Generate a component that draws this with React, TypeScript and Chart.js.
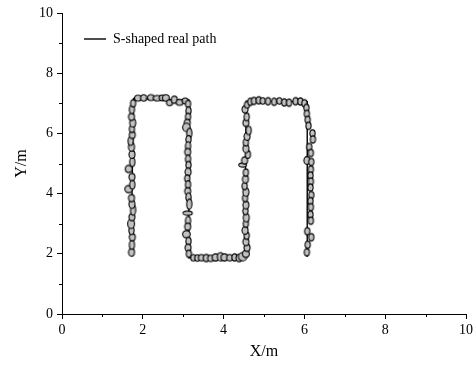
import React, { useEffect, useRef } from "react";
import { Chart, registerables } from "chart.js";

Chart.register(...registerables);

// Real path (polyline corners)
const pathX = [1.71, 1.77, 3.14, 3.14, 4.52, 4.56, 6.07, 6.07];
const pathY = [2.0, 7.16, 7.1, 1.87, 1.87, 7.07, 7.05, 1.9];

// Measured positions (ellipse centres) and their semi-axes, in data units
const ellipseX = [
  1.72, 1.73, 1.74, 1.72, 1.71, 1.73, 1.76, 1.73, 1.72, 1.65, 1.74, 1.73, 1.65, 1.74, 1.73, 1.72, 1.7, 1.74, 1.73, 1.75, 1.72, 1.73, 1.76,
  1.88, 2.02, 2.2, 2.36, 2.48, 2.57, 2.66, 2.78, 2.91, 3.05,
  3.12, 3.13, 3.12, 3.1, 3.08, 3.15, 3.13, 3.12, 3.11, 3.12, 3.13, 3.12, 3.1, 3.12, 3.11, 3.13, 3.15, 3.11, 3.12, 3.11, 3.08, 3.13, 3.12, 3.14,
  3.25, 3.35, 3.45, 3.57, 3.68, 3.8, 3.92, 4.02, 4.15, 4.27, 4.38, 4.47,
  4.55, 4.58, 4.55, 4.57, 4.53, 4.55, 4.56, 4.54, 4.55, 4.53, 4.55, 4.52, 4.54, 4.55, 4.47, 4.52, 4.6, 4.55, 4.55, 4.58, 4.62, 4.55, 4.57, 4.53, 4.58,
  4.66, 4.75, 4.87, 4.97, 5.1, 5.25, 5.38, 5.5, 5.62, 5.78, 5.9, 6.0,
  6.05, 6.06, 6.08, 6.1, 6.2, 6.21, 6.12, 6.16, 6.06, 6.17, 6.16, 6.15, 6.16, 6.15, 6.17, 6.15, 6.16, 6.15, 6.16, 6.07, 6.17, 6.08, 6.06,
];
const ellipseY = [
  2.05, 2.3, 2.55, 2.78, 3.0, 3.22, 3.45, 3.65, 3.85, 4.15, 4.3, 4.55, 4.82, 5.05, 5.3, 5.55, 5.75, 5.95, 6.15, 6.35, 6.55, 6.8, 7.0,
  7.17, 7.18, 7.19, 7.17, 7.18, 7.18, 7.02, 7.12, 7.03, 7.08,
  6.98, 6.75, 6.55, 6.35, 6.2, 6.0, 5.8, 5.58, 5.38, 5.15, 4.95, 4.72, 4.5, 4.3, 4.08, 3.88, 3.65, 3.35, 3.1, 2.9, 2.65, 2.42, 2.2, 2.0,
  1.87, 1.86, 1.87, 1.86, 1.85, 1.88, 1.9, 1.88, 1.87, 1.88, 1.86, 1.9,
  2.0, 2.2, 2.4, 2.6, 2.78, 3.0, 3.2, 3.42, 3.62, 3.85, 4.05, 4.25, 4.48, 4.7, 4.95, 5.1, 5.3, 5.5, 5.7, 5.9, 6.1, 6.35, 6.55, 6.8, 6.95,
  7.05, 7.08, 7.1, 7.08, 7.07, 7.05, 7.08, 7.03, 7.02, 7.07, 7.06, 7.0,
  6.85, 6.65, 6.45, 6.25, 6.0, 5.8, 5.55, 5.35, 5.1, 5.05, 4.8, 4.6, 4.4, 4.2, 3.95, 3.75, 3.55, 3.3, 3.1, 2.75, 2.55, 2.3, 2.05,
];
const semiAxisX = [
  0.06, 0.05, 0.06, 0.05, 0.07, 0.06, 0.05, 0.06, 0.06, 0.08, 0.05, 0.06, 0.07, 0.05, 0.06, 0.06, 0.05, 0.06, 0.05, 0.06, 0.06, 0.05, 0.05,
  0.07, 0.06, 0.07, 0.09, 0.06, 0.07, 0.06, 0.06, 0.07, 0.06,
  0.05, 0.05, 0.05, 0.06, 0.08, 0.05, 0.05, 0.05, 0.06, 0.05, 0.05, 0.06, 0.05, 0.05, 0.06, 0.05, 0.05, 0.1, 0.05, 0.06, 0.08, 0.05, 0.06, 0.05,
  0.05, 0.05, 0.06, 0.06, 0.06, 0.07, 0.06, 0.07, 0.06, 0.05, 0.06, 0.09,
  0.07, 0.06, 0.06, 0.05, 0.06, 0.05, 0.06, 0.05, 0.06, 0.05, 0.06, 0.05, 0.06, 0.05, 0.08, 0.06, 0.05, 0.06, 0.05, 0.06, 0.05, 0.06, 0.05, 0.06, 0.05,
  0.05, 0.05, 0.05, 0.05, 0.05, 0.05, 0.05, 0.05, 0.05, 0.05, 0.05, 0.05,
  0.05, 0.05, 0.05, 0.05, 0.05, 0.05, 0.05, 0.05, 0.06, 0.05, 0.05, 0.05, 0.05, 0.05, 0.05, 0.05, 0.05, 0.05, 0.05, 0.05, 0.05, 0.05, 0.05,
];
const semiAxisY = [
  0.11, 0.13, 0.1, 0.12, 0.14, 0.1, 0.15, 0.12, 0.1, 0.1, 0.13, 0.1, 0.1, 0.13, 0.11, 0.12, 0.13, 0.1, 0.1, 0.12, 0.1, 0.12, 0.1,
  0.08, 0.09, 0.08, 0.07, 0.08, 0.09, 0.08, 0.1, 0.08, 0.08,
  0.1, 0.11, 0.1, 0.1, 0.12, 0.15, 0.11, 0.12, 0.1, 0.11, 0.1, 0.11, 0.1, 0.11, 0.1, 0.12, 0.15, 0.05, 0.12, 0.1, 0.1, 0.11, 0.1, 0.1,
  0.09, 0.09, 0.09, 0.1, 0.09, 0.1, 0.12, 0.1, 0.09, 0.1, 0.1, 0.12,
  0.1, 0.1, 0.11, 0.1, 0.11, 0.1, 0.12, 0.1, 0.11, 0.1, 0.12, 0.1, 0.11, 0.1, 0.05, 0.1, 0.11, 0.12, 0.1, 0.11, 0.12, 0.1, 0.11, 0.1, 0.09,
  0.1, 0.1, 0.1, 0.09, 0.1, 0.1, 0.09, 0.1, 0.1, 0.1, 0.1, 0.1,
  0.1, 0.1, 0.1, 0.1, 0.1, 0.1, 0.1, 0.1, 0.11, 0.1, 0.1, 0.1, 0.1, 0.1, 0.1, 0.1, 0.1, 0.1, 0.1, 0.1, 0.1, 0.1, 0.1,
];

const majorStep = 2;
const minorTicks = [1, 3, 5, 7, 9];
const axisMin = 0;
const axisMax = 10;

const legendLabel = "S-shaped real path";
const xTitle = "X/m";
const yTitle = "Y/m";

const FONT = "'Liberation Serif', 'Times New Roman', serif";

const imgCache = new Map<string, HTMLCanvasElement>();
function ellipseImage(rxIn: number, ryIn: number): HTMLCanvasElement {
  const rx = rxIn + 0.6;
  const ry = ryIn + 0.6;
  const key = rx.toFixed(2) + "," + ry.toFixed(2);
  const hit = imgCache.get(key);
  if (hit) return hit;
  const c = document.createElement("canvas");
  const w = Math.ceil(rx * 2 + 3);
  const h = Math.ceil(ry * 2 + 3);
  c.width = w;
  c.height = h;
  const g = c.getContext("2d")!;
  g.beginPath();
  g.ellipse(w / 2, h / 2, rx, ry, 0, 0, Math.PI * 2);
  g.fillStyle = "#c2c2c2";
  g.fill();
  g.lineWidth = 1.1;
  g.strokeStyle = "#000";
  g.stroke();
  imgCache.set(key, c);
  return c;
}

const minorTickPlugin = {
  id: "minorTicks",
  afterLayout(chart: any) {
    if (chart.legend) {
      chart.legend.left += 1;
      chart.legend.top += 11;
    }
  },
  afterDraw(chart: any) {
    const { ctx } = chart;
    const xs = chart.scales.x;
    const ys = chart.scales.y;
    ctx.save();
    ctx.strokeStyle = "#000";
    ctx.lineWidth = 1;
    ctx.beginPath();
    for (const v of minorTicks) {
      const px = Math.round(xs.getPixelForValue(v)) + 0.5;
      ctx.moveTo(px, xs.top);
      ctx.lineTo(px, xs.top + 3);
      const py = Math.round(ys.getPixelForValue(v)) + 0.5;
      ctx.moveTo(ys.right, py);
      ctx.lineTo(ys.right - 3, py);
    }
    ctx.stroke();
    ctx.restore();
  },
};

export default function App() {
  const ref = useRef<HTMLCanvasElement>(null);

  useEffect(() => {
    if (!ref.current) return;
    const pathData = pathX.map((x, i) => ({ x, y: pathY[i] }));
    const markerData = ellipseX.map((x, i) => ({ x, y: ellipseY[i] }));

    const chart = new Chart(ref.current, {
      type: "scatter",
      data: {
        datasets: [
          {
            label: legendLabel,
            data: pathData,
            showLine: true,
            borderColor: "#000",
            backgroundColor: "#000",
            borderWidth: 1.4,
            pointRadius: 0,
            order: 2,
          },
          {
            label: "measured",
            data: markerData,
            showLine: false,
            pointRadius: 4,
            order: 1,
            pointStyle: (ctx: any) => {
              const i = ctx.dataIndex;
              const xs = ctx.chart.scales?.x;
              const ys = ctx.chart.scales?.y;
              if (i === undefined || !xs || !ys) return "circle";
              const kx = Math.abs(xs.getPixelForValue(1) - xs.getPixelForValue(0));
              const ky = Math.abs(ys.getPixelForValue(1) - ys.getPixelForValue(0));
              return ellipseImage(semiAxisX[i] * kx, semiAxisY[i] * ky);
            },
          } as any,
        ],
      },
      options: {
        animation: false,
        responsive: false,
        maintainAspectRatio: false,
        events: [],
        layout: { padding: { top: 13, right: 8, left: 0, bottom: 0 } },
        plugins: {
          tooltip: { enabled: false },
          legend: {
            position: "chartArea" as any,
            align: "start",
            labels: {
              filter: (item: any) => item.datasetIndex === 0,
              usePointStyle: true,
              pointStyle: "line",
              pointStyleWidth: 22,
              padding: 21,
              color: "#000",
              font: { family: FONT, size: 14 },
            },
          },
        },
        scales: {
          x: {
            type: "linear",
            min: axisMin,
            max: axisMax,
            ticks: {
              stepSize: majorStep,
              color: "#000",
              padding: 3,
              font: { family: FONT, size: 14 },
            },
            grid: { drawOnChartArea: false, tickLength: 5, tickColor: "#000" },
            border: { color: "#000", width: 1 },
            title: {
              display: true,
              text: xTitle,
              color: "#000",
              font: { family: FONT, size: 16 },
              padding: { top: 0, bottom: 6 },
            },
            afterFit: (s: any) => {
              s.height = 53;
            },
          },
          y: {
            type: "linear",
            min: axisMin,
            max: axisMax,
            ticks: {
              stepSize: majorStep,
              color: "#000",
              padding: 4,
              font: { family: FONT, size: 14 },
            },
            grid: { drawOnChartArea: false, tickLength: 5, tickColor: "#000" },
            border: { color: "#000", width: 1 },
            title: {
              display: true,
              text: yTitle,
              color: "#000",
              font: { family: FONT, size: 16 },
              padding: { top: 12, bottom: 0 },
            },
            afterFit: (s: any) => {
              s.width = 62;
            },
          },
        },
      },
      plugins: [minorTickPlugin],
    } as any);
    return () => chart.destroy();
  }, []);

  return (
    <div style={{ position: "fixed", left: 0, top: 0, width: 476, height: 367, background: "#fff" }}>
      <canvas ref={ref} width={476} height={367} style={{ width: 476, height: 367, display: "block" }} />
    </div>
  );
}
